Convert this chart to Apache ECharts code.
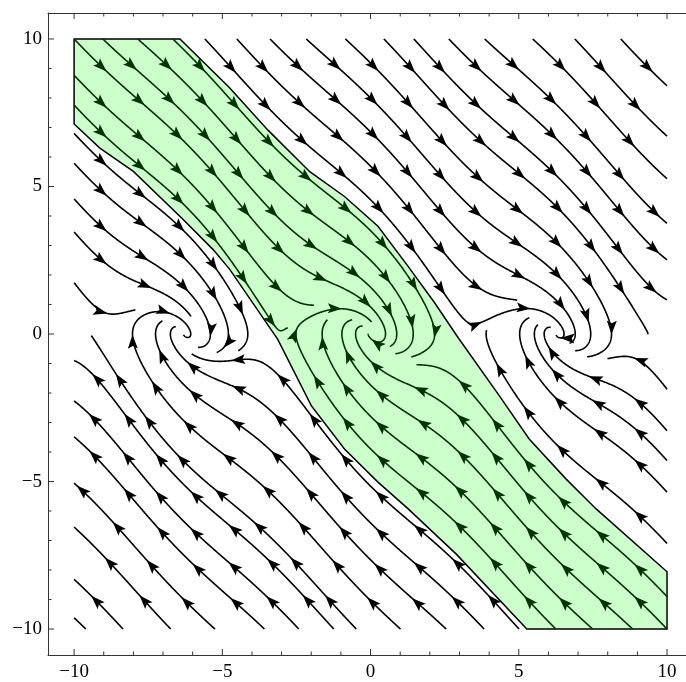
<!DOCTYPE html>
<html><head><meta charset="utf-8">
<script src="https://cdn.jsdelivr.net/npm/echarts@6/dist/echarts.min.js"></script>
<style>html,body{margin:0;padding:0;background:#fff}#c{width:686px;height:682px}</style>
</head><body><div id="c"></div>
<script>
// ---------- data ----------
const tickValues = [-10, -5, 0, 5, 10];
const minorTickValues = [-10,-9,-8,-7,-6,-5,-4,-3,-2,-1,0,1,2,3,4,5,6,7,8,9,10];
// vector field: x' = y, y' = -sin(x) - damping*y
const damping = [1];
// upstream streamline seed points
const topSeedsX = [-10.0, -9.03, -7.85, -6.67, -5.59, -4.51, -3.39, -2.17, -0.85, 0.45, 1.46, 2.64, 3.85, 5.47, 6.89, 8.44];
const bottomSeedsX = [-8.35, -6.74, -5.25, -3.58, -2.42, -1.24, -0.48, 1.01, 2.55, 3.83, 5.01, 6.25, 7.49, 8.84, 10.0];
const leftSeedsY = [8.77, 7.76, 6.8, 5.79, 4.58, 3.46, 1.74];
const rightSeedsY = [-1.87, -3.28, -4.29, -5.36, -7.1, -8.9];
// shaded region (basin of attraction of the origin)
const basinX = [-10, -6.43, -4.78, -3.46, -2.05, -0.88, 0.25, 1.26, 2.16, 2.95, 4.34, 5.35, 6.59, 7.6, 10, 10, 5.27, 2.9, 1.26, 0.25, -0.88, -2.0, -3.13, -4.75, -5.31, -6.32, -8.0, -9.13, -10];
const basinY = [10, 10, 8.37, 6.91, 5.5, 4.66, 3.65, 2.30, 1.06, -0.12, -2.09, -3.56, -4.91, -5.92, -8.06, -10, -10, -7.47, -5.92, -5.02, -3.9, -2.43, -0.18, 2.19, 2.86, 3.88, 5.51, 6.3, 7.12];

// ---------- streamline tracing ----------
const DOM = 10, dsep = 0.92, dtest = 0.3, H = 0.02, selfWin = 1.0, minSpeed = 0.06, maxSteps = 4000;
function vel(x, y) { return [y, -Math.sin(x) - damping[0] * y]; }
function dir(x, y) { const v = vel(x, y); const m = Math.hypot(v[0], v[1]); return m < 1e-9 ? null : [v[0] / m, v[1] / m]; }
function rk4(x, y, h) {
  const k1 = dir(x, y); if (!k1) return null;
  const k2 = dir(x + h / 2 * k1[0], y + h / 2 * k1[1]); if (!k2) return null;
  const k3 = dir(x + h / 2 * k2[0], y + h / 2 * k2[1]); if (!k3) return null;
  const k4 = dir(x + h * k3[0], y + h * k3[1]); if (!k4) return null;
  return [x + h / 6 * (k1[0] + 2 * k2[0] + 2 * k3[0] + k4[0]), y + h / 6 * (k1[1] + 2 * k2[1] + 2 * k3[1] + k4[1])];
}
const cell = dsep, grid = new Map();
function ck(x, y) { return [Math.floor((x + 12) / cell), Math.floor((y + 12) / cell)]; }
function addPt(x, y, id, s) { const [i, j] = ck(x, y); const k = i * 1000 + j; let a = grid.get(k); if (!a) { a = []; grid.set(k, a); } a.push([x, y, id, s]); }
function minDist(x, y, id, s) {
  const [i, j] = ck(x, y); let best = Infinity;
  for (let di = -1; di <= 1; di++) for (let dj = -1; dj <= 1; dj++) {
    const a = grid.get((i + di) * 1000 + (j + dj)); if (!a) continue;
    for (const p of a) {
      if (p[2] === id && Math.abs(p[3] - s) < selfWin) continue;
      const d = Math.hypot(p[0] - x, p[1] - y); if (d < best) best = d;
    }
  }
  return best;
}
function inDom(x, y) { return x >= -DOM && x <= DOM && y >= -DOM && y <= DOM; }
function traceHalf(x0, y0, sign, id) {
  const pts = []; let x = x0, y = y0, s = 0;
  for (let n = 0; n < maxSteps; n++) {
    const q = rk4(x, y, sign * H); if (!q) break;
    let [nx, ny] = q;
    if (!inDom(nx, ny)) {
      let t = 1;
      if (nx > DOM) t = Math.min(t, (DOM - x) / (nx - x));
      if (nx < -DOM) t = Math.min(t, (-DOM - x) / (nx - x));
      if (ny > DOM) t = Math.min(t, (DOM - y) / (ny - y));
      if (ny < -DOM) t = Math.min(t, (-DOM - y) / (ny - y));
      if (t > 0.01) pts.push([x + t * (nx - x), y + t * (ny - y)]);
      break;
    }
    s += H;
    if (minDist(nx, ny, id, sign * s) < dtest) break;
    const v = vel(nx, ny); if (Math.hypot(v[0], v[1]) < minSpeed) break;
    pts.push([nx, ny]); addPt(nx, ny, id, sign * s);
    x = nx; y = ny;
  }
  return pts;
}
const lines = [];
function traceSeed(x, y, need) {
  if (!inDom(x, y)) return null;
  if (minDist(x, y, -1, 0) < need) return null;
  const id = lines.length;
  addPt(x, y, id, 0);
  const b = traceHalf(x, y, -1, id);
  const f = traceHalf(x, y, 1, id);
  const pts = b.reverse().concat([[x, y]], f);
  let len = 0; for (let i = 1; i < pts.length; i++) len += Math.hypot(pts[i][0] - pts[i - 1][0], pts[i][1] - pts[i - 1][1]);
  const L = { pts, len };
  lines.push(L);
  return L;
}
const seeds = [];
topSeedsX.forEach(x => seeds.push([x, 10]));
bottomSeedsX.forEach(x => seeds.push([x, -10]));
leftSeedsY.forEach(y => seeds.push([-10, y]));
rightSeedsY.forEach(y => seeds.push([10, y]));
seeds.forEach(p => traceSeed(p[0], p[1], 0.5 * dsep));
for (let q = 0; q < lines.length; q++) {
  const P = lines[q].pts;
  for (let i = 1; i < P.length - 1; i += 12) {
    const dx = P[i + 1][0] - P[i - 1][0], dy = P[i + 1][1] - P[i - 1][1], m = Math.hypot(dx, dy) || 1;
    const nx = -dy / m, ny = dx / m;
    for (const sg of [1, -1]) traceSeed(P[i][0] + sg * dsep * nx, P[i][1] + sg * dsep * ny, 0.98 * dsep);
  }
}
function inPoly(x, y) {
  let c = false;
  for (let i = 0, j = basinX.length - 1; i < basinX.length; j = i++) {
    if (((basinY[i] > y) !== (basinY[j] > y)) && (x < (basinX[j] - basinX[i]) * (y - basinY[i]) / (basinY[j] - basinY[i]) + basinX[i])) c = !c;
  }
  return c;
}
const stream = lines.filter(L => L.len > 0.5 && L.pts.length > 2);
stream.forEach(L => { let k = 0; L.pts.forEach(p => { if (inPoly(p[0], p[1])) k++; }); L.inside = k > L.pts.length / 2; });

// ---------- chart ----------
const AX = 10.88, AXR = 10.64;
const minus = v => v < 0 ? '\u2212' + Math.abs(v) : String(v);
const chart = echarts.init(document.getElementById('c'), null, { renderer: 'canvas' });
const axisCommon = {
  type: 'value', min: -AX, max: AX,
  axisLine: { show: true, onZero: false, lineStyle: { color: '#333', width: 1 } },
  axisTick: { show: false }, splitLine: { show: false }, minorTick: { show: false }
};
const labelStyle = { color: '#000', fontFamily: 'Liberation Serif', fontSize: 19, formatter: minus, customValues: tickValues };
chart.setOption({
  animation: false,
  grid: { left: 48, top: 13, right: 0, bottom: 25, containLabel: false },
  xAxis: [
    Object.assign({}, axisCommon, { max: AXR, position: 'bottom', axisLabel: Object.assign({ margin: 8 }, labelStyle) }),
    Object.assign({}, axisCommon, { max: AXR, position: 'top', axisLabel: { show: false } })
  ],
  yAxis: [
    Object.assign({}, axisCommon, { position: 'left', axisLabel: Object.assign({ margin: 6 }, labelStyle) }),
    Object.assign({}, axisCommon, { position: 'right', axisLine: { show: false }, axisLabel: { show: false } })
  ],
  series: [
    {
      type: 'custom', coordinateSystem: 'cartesian2d', silent: true, clip: true, z: 1,
      data: [[basinX[0], basinY[0]]],
      renderItem: function (params, api) {
        const pts = basinX.map((x, i) => api.coord([x, basinY[i]]));
        return { type: 'polygon', shape: { points: pts }, style: { fill: '#ccffcc', stroke: '#000', lineWidth: 1.5 } };
      }
    },
    {
      type: 'custom', coordinateSystem: 'cartesian2d', silent: true, clip: true, z: 2,
      data: stream.map((L, i) => [L.pts[0][0], L.pts[0][1], i]),
      renderItem: function (params, api) {
        const L = stream[params.dataIndex];
        const pts = L.pts.map(p => api.coord(p));
        const col = L.inside ? '#003300' : '#000';
        const ch = [{ type: 'polyline', shape: { points: pts }, style: { stroke: col, lineWidth: 1.6, fill: null } }];
        const AL = 14, AW = 5, first = 46, step = 51;
        let acc = 0, next = first;
        for (let i = 1; i < pts.length; i++) {
          const dx = pts[i][0] - pts[i - 1][0], dy = pts[i][1] - pts[i - 1][1], sl = Math.hypot(dx, dy);
          if (sl === 0) continue;
          while (acc + sl >= next) {
            const t = (next - acc) / sl, tx = pts[i - 1][0] + t * dx, ty = pts[i - 1][1] + t * dy;
            const ux = dx / sl, uy = dy / sl, nx = -uy, ny = ux;
            ch.push({ type: 'polygon', shape: { points: [[tx, ty], [tx - ux * AL + nx * AW, ty - uy * AL + ny * AW], [tx - ux * AL * 0.8, ty - uy * AL * 0.8], [tx - ux * AL - nx * AW, ty - uy * AL - ny * AW]] }, style: { fill: col } });
            next += step;
          }
          acc += sl;
        }
        return { type: 'group', children: ch };
      }
    },
    {
      type: 'custom', coordinateSystem: 'cartesian2d', silent: true, clip: false, z: 3,
      data: [[0, 0]],
      renderItem: function (params, api) {
        const ch = [];
        const st = { stroke: '#333', lineWidth: 1 };
        minorTickValues.forEach(v => {
          const len = tickValues.indexOf(v) >= 0 ? 6 : 3.5;
          const b = api.coord([v, -AX]), t = api.coord([v, AX]), l = api.coord([-AX, v]);
          ch.push({ type: 'line', shape: { x1: b[0], y1: b[1], x2: b[0], y2: b[1] - len }, style: st });
          ch.push({ type: 'line', shape: { x1: t[0], y1: t[1], x2: t[0], y2: t[1] + len }, style: st });
          ch.push({ type: 'line', shape: { x1: l[0], y1: l[1], x2: l[0] + len, y2: l[1] }, style: st });
        });
        return { type: 'group', children: ch };
      }
    }
  ]
});
</script></body></html>
